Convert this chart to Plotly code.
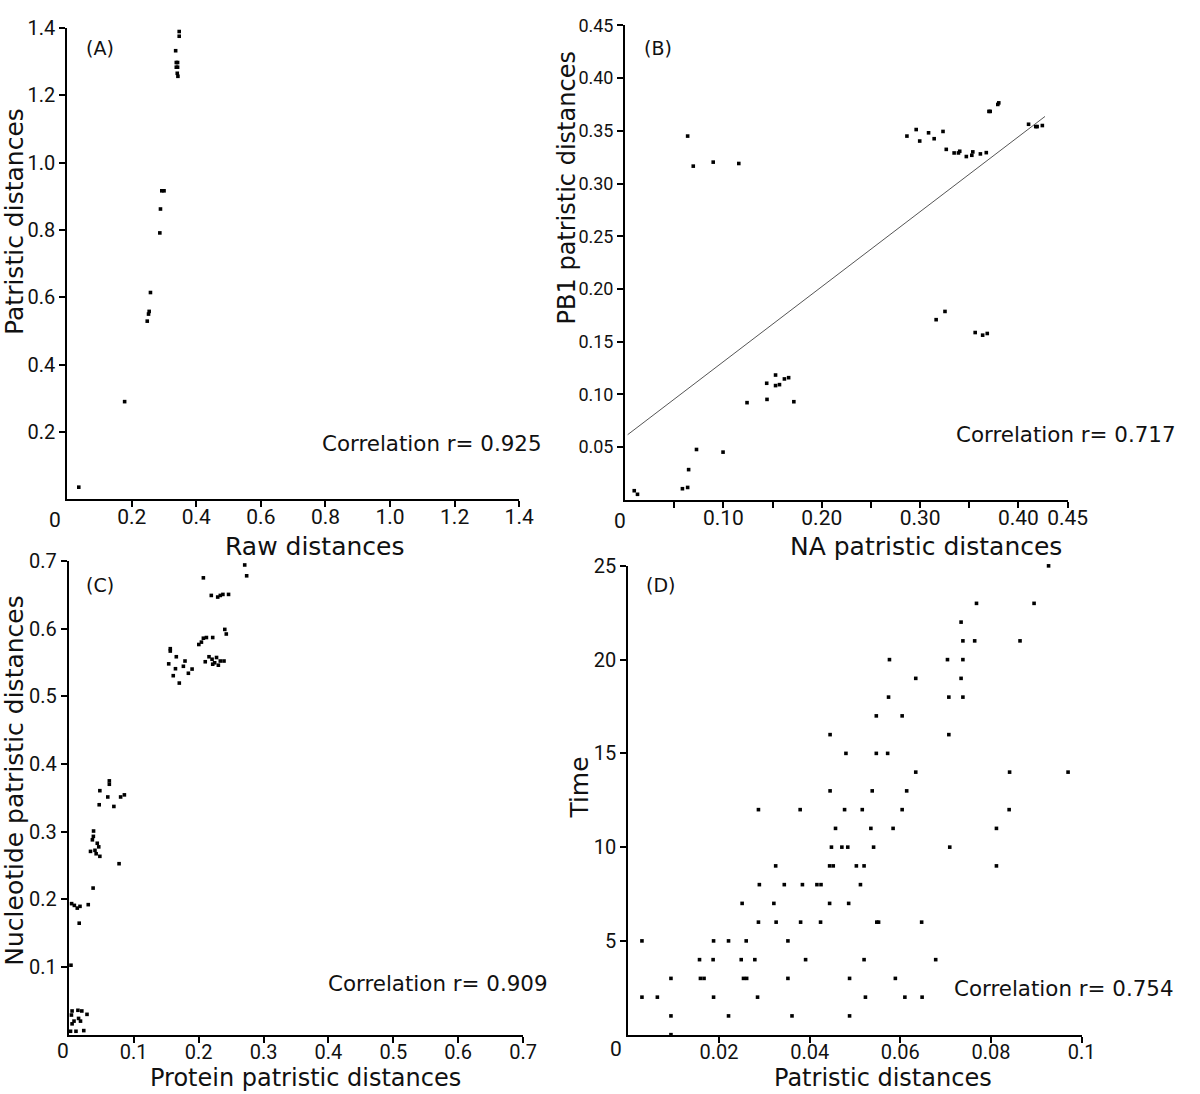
import plotly.graph_objects as go

# ---------------- data ----------------
# Panel A: raw distances vs patristic distances
a_raw = [0.036, 0.178, 0.248, 0.252, 0.254, 0.258, 0.287, 0.289, 0.293, 0.300,
         0.336, 0.338, 0.342, 0.338, 0.342, 0.341, 0.343, 0.347, 0.347]
a_pat = [0.036, 0.290, 0.529, 0.550, 0.558, 0.614, 0.791, 0.862, 0.916, 0.916,
         1.332, 1.297, 1.297, 1.283, 1.283, 1.265, 1.256, 1.389, 1.375]

# Panel B: NA patristic vs PB1 patristic distances
b_na = [0.0093, 0.0126, 0.0583, 0.0636, 0.0646, 0.0726, 0.0996, 0.1240, 0.1443, 0.1440,
        0.1530, 0.1530, 0.1570, 0.1620, 0.1663, 0.1716,
        0.0636, 0.0693, 0.0896, 0.1156,
        0.2866, 0.2960, 0.2996, 0.3086, 0.3143, 0.3233, 0.3266, 0.3346, 0.3390, 0.3403,
        0.3470, 0.3526, 0.3536, 0.3613, 0.3673, 0.3700, 0.3713, 0.3790, 0.3800, 0.4103,
        0.4176, 0.4190, 0.4243,
        0.3163, 0.3253, 0.3560, 0.3636, 0.3683]
b_pb1 = [0.0087, 0.0053, 0.0106, 0.0118, 0.0287, 0.0478, 0.0453, 0.0922, 0.0953, 0.1106,
         0.1184, 0.1084, 0.1093, 0.1147, 0.1159, 0.0931,
         0.3450, 0.3165, 0.3203, 0.3190,
         0.3450, 0.3512, 0.3403, 0.3481, 0.3425, 0.3494, 0.3324, 0.3290, 0.3290, 0.3306,
         0.3256, 0.3268, 0.3300, 0.3281, 0.3293, 0.3684, 0.3684, 0.3750, 0.3765, 0.3562,
         0.3540, 0.3540, 0.3550,
         0.1709, 0.1787, 0.1587, 0.1562, 0.1578]
b_fit_x = [0.0026, 0.427]
b_fit_intercept = 0.060
b_fit_slope = 0.711

# Panel C: protein vs nucleotide patristic distances
c_prot = [0.271, 0.274, 0.2073, 0.2195, 0.2294, 0.2334, 0.2374, 0.2461, 0.2403, 0.2426,
          0.2003, 0.2043, 0.2073, 0.2120, 0.2217,
          0.2102, 0.2160, 0.2207, 0.2247, 0.2276, 0.2304, 0.2334, 0.2391, 0.2217,
          0.1563, 0.1563, 0.1539, 0.1609, 0.1656, 0.1643, 0.1702, 0.1765, 0.1790, 0.1842, 0.1899,
          0.0624, 0.0624, 0.0478, 0.0600, 0.0468, 0.0694, 0.0798, 0.0856, 0.0774,
          0.0381, 0.0378, 0.0363, 0.0334, 0.0403, 0.0438, 0.0461, 0.0478, 0.0421, 0.0374, 0.0299,
          0.0043, 0.0085, 0.0130, 0.0172, 0.0160, 0.0033,
          0.0050, 0.0140, 0.0200, 0.0280, 0.0040, 0.0080, 0.0150, 0.0180, 0.0050, 0.0110,
          0.0230, 0.0026]
c_nuc = [0.694, 0.678, 0.675, 0.649, 0.6466, 0.649, 0.6505, 0.6505, 0.5988, 0.592,
         0.5765, 0.580, 0.5858, 0.5868, 0.5868,
         0.551, 0.5584, 0.5547, 0.5495, 0.5573, 0.5459, 0.5521, 0.5521, 0.5474,
         0.5703, 0.5668, 0.5479, 0.5304, 0.5584, 0.5407, 0.5195, 0.5443, 0.5521, 0.534, 0.5402,
         0.375, 0.370, 0.3605, 0.3512, 0.3397, 0.3372, 0.3512, 0.3543, 0.2526,
         0.3009, 0.293, 0.2879, 0.2708, 0.2724, 0.2828, 0.2775, 0.2635, 0.2673, 0.2166, 0.1921,
         0.1936, 0.191, 0.187, 0.1896, 0.1647, 0.1026,
         0.035, 0.036, 0.035, 0.030, 0.029, 0.020, 0.024, 0.020, 0.016, 0.005,
         0.006, 0.005]

# Panel D: patristic distances vs time
d_pat = [0.0927,
         0.0768, 0.0895,
         0.0734,
         0.0738, 0.0764, 0.0864,
         0.0576, 0.0704, 0.0738,
         0.0634, 0.0734,
         0.0574, 0.0707, 0.0738,
         0.0547, 0.0604,
         0.0445, 0.0707, 0.1002,
         0.0480, 0.0547, 0.0572,
         0.0634, 0.0841, 0.0970,
         0.0445, 0.0538, 0.0614,
         0.0287, 0.0379, 0.0477, 0.0516, 0.0604, 0.0840,
         0.0457, 0.0535, 0.0584, 0.0812,
         0.0448, 0.0471, 0.0484, 0.0541, 0.0709,
         0.0325, 0.0444, 0.0452, 0.0503, 0.0520, 0.0812,
         0.0289, 0.0344, 0.0384, 0.0416, 0.0425, 0.0512,
         0.0251, 0.0321, 0.0444, 0.0486,
         0.0287, 0.0326, 0.0380, 0.0424, 0.0548, 0.0552, 0.0647,
         0.0030, 0.0188, 0.0221, 0.0260, 0.0352,
         0.0157, 0.0187, 0.0249, 0.0279, 0.0391, 0.0520, 0.0678,
         0.0094, 0.0159, 0.0167, 0.0254, 0.0261, 0.0352, 0.0488, 0.0589,
         0.0030, 0.0064, 0.0188, 0.0285, 0.0523, 0.0610, 0.0648,
         0.0094, 0.0221, 0.0361, 0.0488,
         0.0094]
d_time = [25,
          23, 23,
          22,
          21, 21, 21,
          20, 20, 20,
          19, 19,
          18, 18, 18,
          17, 17,
          16, 16, 16,
          15, 15, 15,
          14, 14, 14,
          13, 13, 13,
          12, 12, 12, 12, 12, 12,
          11, 11, 11, 11,
          10, 10, 10, 10, 10,
          9, 9, 9, 9, 9, 9,
          8, 8, 8, 8, 8, 8,
          7, 7, 7, 7,
          6, 6, 6, 6, 6, 6, 6,
          5, 5, 5, 5, 5,
          4, 4, 4, 4, 4, 4, 4,
          3, 3, 3, 3, 3, 3, 3, 3,
          2, 2, 2, 2, 2, 2, 2,
          1, 1, 1, 1,
          0]

correlations = ["0.925", "0.717", "0.909", "0.754"]
panel_labels = ["(A)", "(B)", "(C)", "(D)"]
x_titles = ["Raw distances", "NA patristic distances",
            "Protein patristic distances", "Patristic distances"]
y_titles = ["Patristic distances", "PB1 patristic distances",
            "Nucleotide patristic distances", "Time"]

a_ticks = [0.2, 0.4, 0.6, 0.8, 1.0, 1.2, 1.4]
a_ticktext = ["0.2", "0.4", "0.6", "0.8", "1.0", "1.2", "1.4"]
b_xticks = [0.05, 0.10, 0.15, 0.20, 0.25, 0.30, 0.35, 0.40, 0.45]
b_xticktext = ["", "0.10", "", "0.20", "", "0.30", "", "0.40", "0.45"]
b_yticks = [0.05, 0.10, 0.15, 0.20, 0.25, 0.30, 0.35, 0.40, 0.45]
b_yticktext = ["0.05", "0.10", "0.15", "0.20", "0.25", "0.30", "0.35", "0.40", "0.45"]
c_ticks = [0.1, 0.2, 0.3, 0.4, 0.5, 0.6, 0.7]
c_ticktext = ["0.1", "0.2", "0.3", "0.4", "0.5", "0.6", "0.7"]
d_xticks = [0.02, 0.04, 0.06, 0.08, 0.1]
d_xticktext = ["0.02", "0.04", "0.06", "0.08", "0.1"]
d_yticks = [5, 10, 15, 20, 25]
d_yticktext = ["5", "10", "15", "20", "25"]

# ---------------- figure ----------------
W, H = 1200, 1094
FONT = "DejaVu Sans, Verdana, sans-serif"
TICKFONT = "Roboto, 'DejaVu Sans', sans-serif"
TXT = "#111111"


def px(x):
    return x / W


def py(y):
    return 1 - y / H


marker = dict(symbol="square", size=3.6, color="black", line=dict(width=0))

fig = go.Figure()
fig.add_trace(go.Scatter(x=a_raw, y=a_pat, mode="markers", marker=marker,
                         xaxis="x", yaxis="y", cliponaxis=False, showlegend=False))
fig.add_trace(go.Scatter(x=b_na, y=b_pb1, mode="markers", marker=marker,
                         xaxis="x2", yaxis="y2", cliponaxis=False, showlegend=False))
fit_y = [b_fit_intercept + b_fit_slope * v for v in b_fit_x]
fig.add_trace(go.Scatter(x=b_fit_x, y=fit_y, mode="lines",
                         line=dict(color="#555555", width=1),
                         xaxis="x2", yaxis="y2", showlegend=False))
fig.add_trace(go.Scatter(x=c_prot, y=c_nuc, mode="markers", marker=marker,
                         xaxis="x3", yaxis="y3", cliponaxis=False, showlegend=False))
fig.add_trace(go.Scatter(x=d_pat, y=d_time, mode="markers", marker=marker,
                         xaxis="x4", yaxis="y4", cliponaxis=False, showlegend=False))

axis_common = dict(showline=True, linewidth=2, linecolor="black", mirror=False,
                   ticks="outside", ticklen=6, tickwidth=2, tickcolor="black",
                   showgrid=False, zeroline=False, tickmode="array")

# pixel boxes: (x_left, x_right, y_top, y_bottom)
boxes = [(68.3, 528.0, 16.0, 492.7),
         (635.7, 1085.7, 13.5, 493.3),
         (70.0, 532.0, 555.0, 1034.0),
         (639.0, 1100.0, 560.0, 1034.0)]
xranges = [[0, 1.4], [0, 0.45], [0, 0.7], [0, 0.1]]
yranges = [[0, 1.4], [0, 0.45], [0, 0.7], [0, 25]]
xticks = [(a_ticks, a_ticktext), (b_xticks, b_xticktext), (c_ticks, c_ticktext), (d_xticks, d_xticktext)]
yticks = [(a_ticks, a_ticktext), (b_yticks, b_yticktext), (c_ticks, c_ticktext), (d_yticks, d_yticktext)]
ytick_sizes = [20, 18, 20, 20]
xtick_sizes = [21, 21, 20, 20]

layout = dict(width=W, height=H, margin=dict(l=0, r=0, t=0, b=0),
              paper_bgcolor="white", plot_bgcolor="white", showlegend=False)
for i in range(4):
    s = "" if i == 0 else str(i + 1)
    x0, x1, y0, y1 = boxes[i]
    layout["xaxis" + s] = dict(axis_common, domain=[px(x0), px(x1)], range=xranges[i],
                               tickvals=xticks[i][0], ticktext=xticks[i][1],
                               tickfont=dict(family=TICKFONT, size=xtick_sizes[i], color=TXT),
                               ticklabelstandoff=-8,
                               anchor="y" + s)
    layout["yaxis" + s] = dict(axis_common, domain=[py(y1), py(y0)], range=yranges[i],
                               tickvals=yticks[i][0], ticktext=yticks[i][1],
                               tickfont=dict(family=TICKFONT, size=ytick_sizes[i], color=TXT),
                               anchor="x" + s)
fig.update_layout(**layout)

ann = []
# axis titles (pixel centres)
xt_pos = [(320, 540), (942, 540), (311, 1078), (898, 1078)]
xt_sizes = [25, 25, 24, 24]
yt_pos = [(14.5, 212), (577, 178), (14.5, 777), (589, 784)]
yt_sizes = [25, 24, 25, 25]
for i in range(4):
    ann.append(dict(text=x_titles[i], x=px(xt_pos[i][0]), y=py(xt_pos[i][1]),
                    xref="paper", yref="paper", showarrow=False,
                    xanchor="center", yanchor="middle",
                    font=dict(family=FONT, size=xt_sizes[i], color=TXT)))
    ann.append(dict(text=y_titles[i], x=px(yt_pos[i][0]), y=py(yt_pos[i][1]),
                    xref="paper", yref="paper", showarrow=False, textangle=-90,
                    xanchor="center", yanchor="middle",
                    font=dict(family=FONT, size=yt_sizes[i], color=TXT)))
# correlation texts (right edge, centre y)
corr_pos = [(553, 436), (1198, 427.5), (559, 982), (1196, 987)]
for i in range(4):
    ann.append(dict(text="Correlation r= " + correlations[i],
                    x=px(corr_pos[i][0]), y=py(corr_pos[i][1]),
                    xref="paper", yref="paper", showarrow=False,
                    xanchor="right", yanchor="middle",
                    font=dict(family=FONT, size=21.4, color=TXT)))
# panel labels
lab_pos = [(102, 36), (669, 36), (102, 579), (671.5, 579)]
for i in range(4):
    ann.append(dict(text=panel_labels[i], x=px(lab_pos[i][0]), y=py(lab_pos[i][1]),
                    xref="paper", yref="paper", showarrow=False,
                    xanchor="center", yanchor="middle",
                    font=dict(family=FONT, size=19, color=TXT)))
# origin "0" labels
zero_pos = [(55.7, 513.3), (630, 515), (64.3, 1051), (626, 1049)]
for i in range(4):
    ann.append(dict(text="0", x=px(zero_pos[i][0]), y=py(zero_pos[i][1]),
                    xref="paper", yref="paper", showarrow=False,
                    xanchor="center", yanchor="middle",
                    font=dict(family=TICKFONT, size=21, color=TXT)))
fig.update_layout(annotations=ann)

# remove the browser's default 8px page margin so the figure sits at (0, 0)
page_fix = ("document.documentElement.style.margin='0';"
            "document.body.style.margin='0';"
            "document.body.style.padding='0';"
            "document.body.style.overflow='hidden';")
fig.write_html("out.html", post_script=page_fix, config={"displayModeBar": False})
